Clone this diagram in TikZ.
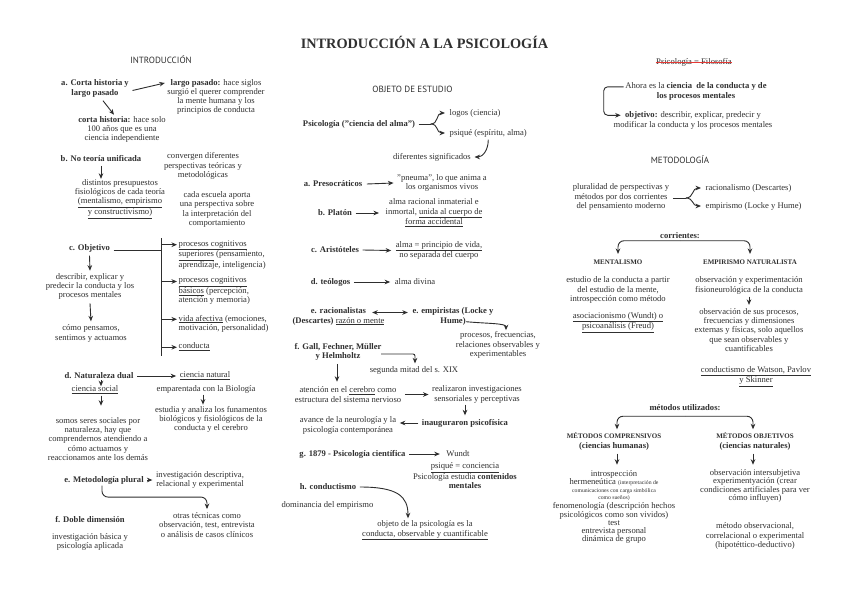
\documentclass[tikz,border=0pt]{standalone}
\usepackage{fontspec}
\setmainfont{Liberation Serif}
\newfontfamily\hdfam{PT Sans}
\usetikzlibrary{arrows.meta,calc}
\definecolor{txc}{HTML}{303030}
\definecolor{arc}{HTML}{2E2E2E}
\definecolor{strk}{HTML}{E53935}
\newcommand\fsz{\fontsize{8.6}{9.2}\selectfont}
\newcommand\fsm{\fontsize{5.7}{7}\selectfont}
\newcommand\fcap{\fontsize{7}{9.2}\selectfont}
\newcommand\fhd{\fontsize{9}{10}\hdfam}
\begin{document}
\begin{tikzpicture}[x=1pt,y=-1pt,
 tx/.style={font=\fsz, text=txc, align=center, inner sep=0.5pt},
 bx/.style={tx, font=\fsz\bfseries},
 lx/.style={tx, align=left, anchor=west},
 hx/.style={font=\fhd, text=txc, inner sep=0.5pt},
 ln/.style={draw=arc, line width=0.9pt},
 arr/.style={ln, -{Stealth[length=5.5pt,width=4.6pt]}},
 arrb/.style={ln, {Stealth[length=5.5pt,width=4.6pt]}-{Stealth[length=5.5pt,width=4.6pt]}},
]
\fill[white] (0,0) rectangle (848,599);
\useasboundingbox (0,0) rectangle (848,599);

% ---------------- title and headings
\node[font=\fontsize{14.3}{16}\selectfont\bfseries, text=txc, inner sep=0.5pt] (title) at (424.5,42) {INTRODUCCIÓN A LA PSICOLOGÍA};
\node[hx] (intro) at (161,60) {INTRODUCCIÓN};
\node[hx] (objeto) at (412.5,89) {OBJETO DE ESTUDIO};
\node[hx] (metod) at (680,160) {METODOLOGÍA};

% ---------------- left column
\node[bx] (aCorta) at (95,88.5) {a. Corta historia y\\largo pasado};
\node[tx] (largo) at (216,97) {\textbf{largo pasado:} hace siglos\\surgió el querer comprender\\la mente humana y los\\principios de conducta};
\node[tx] (corta) at (122,129.5) {\textbf{corta historia:} hace solo\\100 años que es una\\ciencia independiente};
\node[bx] (bNo) at (101,159) {b. No teoría unificada};
\node[tx] (conv) at (203,166) {convergen diferentes\\perspectivas teóricas y\\metodológicas};
\node[tx] (dist) at (120,199) {distintos presupuestos\\fisiológicos de cada teoría\\\underline{(mentalismo, empirismo}\\\underline{y constructivismo)}};
\node[tx] (cada) at (217,209.5) {cada escuela aporta\\una perspectiva sobre\\la interpretación del\\comportamiento};

\node[bx] (cObj) at (89.5,248) {c. Objetivo};
\node[lx] (pcs) at (178,255) {\underline{procesos cognitivos}\\\underline{superiores} (pensamiento,\\aprendizaje, inteligencia)};
\node[lx] (pcb) at (178,291) {\underline{procesos cognitivos}\\\underline{básicos} (percepción,\\atención y memoria)};
\node[lx] (vaf) at (178,323.5) {\underline{vida afectiva} (emociones,\\motivación, personalidad)};
\node[lx] (cond) at (178,347) {\underline{conducta}};
\node[tx] (descr) at (90,286.5) {describir, explicar y\\predecir la conducta y los\\procesos mentales};
\node[tx] (como) at (91,333.5) {cómo pensamos,\\sentimos y actuamos};

\node[bx] (dNat) at (99,376) {d. Naturaleza dual};
\node[tx] (cnat) at (205,376) {\underline{ciencia natural}};
\node[tx] (empar) at (206,389) {emparentada con la Biología};
\node[tx] (estud) at (211,419.5) {estudia y analiza los funamentos\\biológicos y fisiológicos de la\\conducta y el cerebro};
\node[tx] (csoc) at (95,390) {\underline{ciencia social}};
\node[tx] (somos) at (98,439) {somos seres sociales por\\naturaleza, hay que\\comprendernos atendiendo a\\cómo actuamos y\\reaccionamos ante los demás};

\node[bx] (eMet) at (104,480) {e. Metodología plural};
\node[tx] (inv) at (200,480) {investigación descriptiva,\\relacional y experimental};
\node[tx] (otras) at (207,525) {otras técnicas como\\observación, test, entrevista\\o análisis de casos clínicos};
\node[bx] (fDob) at (90,519.5) {f. Doble dimensión};
\node[tx] (invb) at (90,542) {investigación básica y\\psicología aplicada};

% left connectors
\draw[arr] ($(aCorta.east)+(3,2)$) -- ($(largo.west)+(-2,-14)$);
\draw[arr] ($(aCorta.south)+(8,3)$) -- ($(corta.north)+(-8,-1)$);
\draw[arr] ($(bNo.south)+(0,3)$) -- ($(bNo.south)+(0,16)$);
\coordinate (barTop) at (161,238);
\coordinate (barBot) at (161,356);
\draw[ln] (barTop) -- (barBot);
\path (cObj.east) ++(3,2) coordinate (cObjR);
\draw[ln] (cObjR) -- (cObjR -| barTop);
\foreach \n in {pcs,pcb,vaf,cond}{
  \draw[arr] ($(\n.north west)+(-17,5)$) -- ($(\n.north west)+(-1,5)$);
}
\draw[arr] ($(cObj.south)+(0,3)$) -- ($(descr.north)+(0,-2)$);
\draw[arr] ($(descr.south)+(0,3)$) -- ($(como.north)+(0,-3)$);
\draw[arr] ($(dNat.east)+(3,0)$) -- ($(cnat.west)+(-3,0)$);
\draw[arr] ($(dNat.south)+(2,0.5)$) -- ($(dNat.south)+(2,6.5)$);
\draw[arr] ($(csoc.south)+(6,1)$) -- ($(csoc.south)+(6,11)$);
\draw[arr] ($(empar.south)+(-3,1)$) -- ($(empar.south)+(-3,11)$);
\draw[arr] ($(eMet.east)+(3,0)$) -- ($(inv.west)+(-3,0)$);
\draw[arr, rounded corners=6pt] ($(eMet.south)+(-2,1)$) |- ($(otras.north)+(0,-15)$) -- ($(otras.north)+(0,-3)$);

% ---------------- middle column
\node[bx] (psico) at (359,124) {Psicología ("ciencia del alma")};
\node[lx] (logos) at (449,113) {logos (ciencia)};
\node[lx] (psique) at (449,133) {psiqué (espíritu, alma)};
\node[tx] (difs) at (432,157) {diferentes significados};
\node[bx] (aPre) at (333,184) {a. Presocráticos};
\node[tx] (pneu) at (442,183) {"pneuma", lo que anima a\\los organismos vivos};
\node[bx] (bPla) at (335,213) {b. Platón};
\node[tx] (platxt) at (434,213) {alma racional inmaterial e\\inmortal, \underline{unida al cuerpo de}\\\underline{forma accidental}};
\node[bx] (cAri) at (335,250) {c. Aristóteles};
\node[tx] (aritxt) at (439,250.5) {\underline{alma = principio de vida,}\\no separada del cuerpo};
\node[bx] (dTeo) at (330.5,282) {d. teólogos};
\node[tx] (divina) at (415,282) {alma divina};
\node[tx] (eRac) at (338.5,316.5) {\textbf{e. racionalistas}\\\textbf{(Descartes)} \underline{razón o mente}};
\node[bx] (eEmp) at (453,316.5) {e. empiristas (Locke y\\Hume)};
\node[tx] (procf) at (498,345) {procesos, frecuencias,\\relaciones observables y\\experimentables};
\node[bx] (fGall) at (338,351.5) {f. Gall, Fechner, Müller\\y Helmholtz};
\node[tx] (segunda) at (414,370) {segunda mitad del s. XIX};
\node[tx] (aten) at (348,394.5) {atención en el \underline{cerebro} como\\estructura del sistema nervioso};
\node[tx] (real) at (477,394.5) {realizaron investigaciones\\sensoriales y perceptivas};
\node[bx] (inaug) at (465,423) {inauguraron psicofísica};
\node[tx] (avance) at (348,425.5) {avance de la neurología y la\\psicología contemporánea};
\node[bx] (gPsi) at (352.5,454) {g. 1879 - Psicología científica};
\node[tx] (wundt) at (458,454) {Wundt};
\node[tx] (psiq) at (465,476) {\underline{psiqué = conciencia}\\Psicología estudia \textbf{contenidos}\\\textbf{mentales}};
\node[bx] (hCon) at (328,487) {h. conductismo};
\node[tx] (domin) at (327.5,505) {dominancia del empirismo};
\node[tx] (objps) at (425,530.5) {objeto de la psicología es la\\\underline{conducta, observable y cuantificable}};

% middle connectors
\coordinate (psJ) at ($(psico.east)+(15,0)$);
\draw[ln] ($(psico.east)+(3,0)$) -- (psJ);
\draw[arr] (psJ) .. controls +(8,0) and +(-9,0) .. ($(logos.west)+(-4,0)$);
\draw[arr] (psJ) .. controls +(8,0) and +(-9,0) .. ($(psique.west)+(-4,0)$);
\draw[arr] ($(psique.south)+(0,2)$) .. controls +(0,11) and +(8,0) .. ($(difs.east)+(3,0)$);
\draw[arr] ($(aPre.east)+(4,0)$) -- ($(pneu.west)+(-3,0)$);
\draw[arr] ($(bPla.east)+(3,0)$) -- ($(platxt.west)+(-6,0)$);
\draw[arr] ($(cAri.east)+(3,0)$) -- ($(aritxt.west)+(-4,0)$);
\draw[arr] ($(dTeo.east)+(3,0)$) -- ($(divina.west)+(-4,0)$);
\draw[arrb] ($(eRac.east)+(-13,-4)$) -- ($(eEmp.west)+(-4,-4)$);
\draw[arr] ($(eEmp.south)+(13,-4)$) .. controls +(22,2) and +(0,-7) .. ($(procf.north)+(8,-1)$);
\draw[arr, rounded corners=2pt] ($(fGall.east)+(-1,2.5)$) -| ($(segunda.north)+(1,-2)$);
\draw[arr] ($(fGall.south)+(-1,3)$) -- ($(fGall.south)+(-1,21)$);
\draw[arr] ($(aten.east)+(3,0)$) -- ($(real.west)+(-3,0)$);
\draw[arr] ($(real.south)+(-12,1)$) -- ($(inaug.north)+(0,-3)$);
\draw[arr] ($(inaug.west)+(-3,0)$) -- ($(avance.east)+(3,-2.5)$);
\draw[arr] ($(gPsi.east)+(3,0)$) -- ($(wundt.west)+(-6,0)$);
\draw[arr] ($(hCon.east)+(3,0)$) .. controls +(38,0) and +(0,-22) .. ($(objps.north)+(-17,-2)$);

% ---------------- right column
\node[tx] (strike) at (694,62) {Psicología = Filosofía};
\draw[strk, line width=0.8pt] ($(strike.west)+(0,0.5)$) -- ($(strike.east)+(0,0.5)$);
\node[tx] (ahora) at (696,91.5) {Ahora es la \textbf{ciencia \ de la conducta y de}\\\textbf{los procesos mentales}};
\node[tx] (objv) at (693,120.5) {\textbf{objetivo:} describir, explicar, predecir y\\modificar la conducta y los procesos mentales};
\draw[arr, rounded corners=4pt] ($(ahora.north west)+(-1,4.5)$) -- ++(-20,0) -- ++(0,28.5) -- ++(17,0);

\node[tx] (plural) at (621,197) {pluralidad de perspectivas y\\métodos por dos corrientes\\del pensamiento moderno};
\node[lx] (racio) at (705,188) {racionalismo (Descartes)};
\node[lx] (empir) at (705,206) {empirismo (Locke y Hume)};
\coordinate (plJ) at ($(plural.east)+(16,1)$);
\draw[ln] ($(plural.east)+(3,1)$) -- (plJ);
\draw[arr] (plJ) .. controls +(8,0) and +(-9,0) .. ($(racio.west)+(-4,0)$);
\draw[arr] (plJ) .. controls +(8,0) and +(-9,0) .. ($(empir.west)+(-4,0)$);

\node[bx] (corr) at (680,236) {corrientes:};
\node[tx, font=\fcap\bfseries] (ment) at (618,262) {MENTALISMO};
\node[tx, font=\fcap\bfseries] (empn) at (750,262) {EMPIRISMO NATURALISTA};
\draw[arr, rounded corners=6pt] ($(corr.south)+(0,1)$) -| ($(ment.north)+(0,-5)$);
\draw[arr, rounded corners=6pt] ($(corr.south)+(0,1)$) -| ($(empn.north)+(0,-5)$);
\node[tx] (estm) at (618,290) {estudio de la conducta a partir\\del estudio de la mente,\\introspección como método};
\node[tx] (asoc) at (618,322.5) {\underline{asociacionismo (Wundt) o}\\\underline{psicoanálisis (Freud)}};
\node[tx] (obsx) at (749,285.5) {observación y experimentación\\fisioneurológica de la conducta};
\node[tx] (obsp) at (749,330) {observación de sus procesos,\\frecuencias y dimensiones\\externas y físicas, solo aquellos\\que sean observables y\\cuantificables};
\draw[arr] ($(obsx.south)+(0,2)$) -- ($(obsp.north)+(0,-3)$);
\node[tx] (condW) at (756,376.5) {\underline{conductismo de Watson, Pavlov}\\\underline{y Skinner}};

\node[bx] (metu) at (685,408) {métodos utilizados:};
\node[bx] (mcomp) at (614,441.5) {{\fcap MÉTODOS COMPRENSIVOS}\\(ciencias humanas)};
\node[bx] (mobj) at (755,441.5) {{\fcap MÉTODOS OBJETIVOS}\\(ciencias naturales)};
\draw[arr, rounded corners=6pt] ($(metu.south)+(0,4.5)$) -| ($(mcomp.north)+(3,-3)$);
\draw[arr, rounded corners=6pt] ($(metu.south)+(0,4.5)$) -| ($(mobj.north)+(-2,-3)$);
\draw[arr] ($(mcomp.south)+(3,3)$) -- ($(mcomp.south)+(3,14)$);
\draw[arr] ($(mobj.south)+(-2,3)$) -- ($(mobj.south)+(-2,14)$);
\node[tx] (lcomp) at (614,507) {introspección\\[-1pt]hermeneútica {\fsm(interpretación de}\\[-1.5pt]{\fsm comunicaciones con carga simbólica}\\[-2pt]{\fsm como sueños)}\\[-0.5pt]fenomenología (descripción hechos\\[-0.5pt]psicológicos como son vividos)\\[-1pt]test\\[-1pt]entrevista personal\\[-1pt]dinámica de grupo};
\node[tx] (lobj) at (755,486) {observación intersubjetiva\\[-0.9pt]experimentyación (crear\\[-0.9pt]condiciones artificiales para ver\\[-0.9pt]cómo influyen)};
\node[tx] (mobs) at (755,536) {método observacional,\\correlacional o experimental\\(hipotéttico-deductivo)};
\end{tikzpicture}
\end{document}
